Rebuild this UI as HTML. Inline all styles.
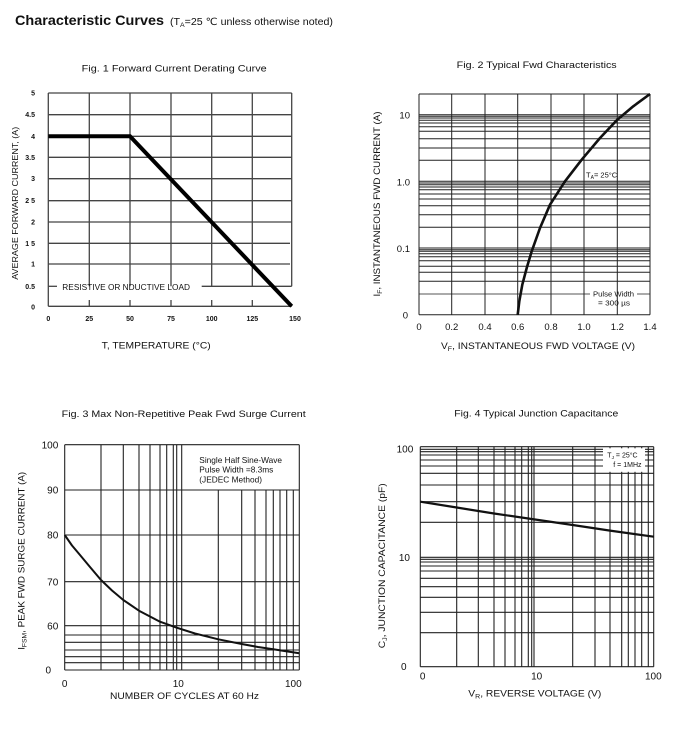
<!DOCTYPE html>
<html>
<head>
<meta charset="utf-8">
<style>
html,body{margin:0;padding:0;background:#fff;}
body{width:675px;height:745px;overflow:hidden;}
svg{display:block;}
text{font-family:"Liberation Sans",Arial,"DejaVu Sans",sans-serif;fill:#111;}
</style>
</head>
<body>
<svg width="675" height="745" viewBox="0 0 675 745" xmlns="http://www.w3.org/2000/svg">
<rect width="675" height="745" fill="#fff"/>

<!-- Main title -->
<text x="15" y="25" font-size="14" font-weight="bold" textLength="149" lengthAdjust="spacingAndGlyphs">Characteristic Curves</text>
<text x="170" y="25" font-size="10" textLength="163" lengthAdjust="spacingAndGlyphs">(T<tspan font-size="6.5" dy="2">A</tspan><tspan dy="-2">=25 ℃ unless otherwise noted)</tspan></text>

<!-- ================= FIG 1 ================= -->
<text x="81.7" y="71.5" font-size="9" textLength="185" lengthAdjust="spacingAndGlyphs">Fig. 1 Forward Current Derating Curve</text>
<g stroke="#444" stroke-width="1.3" fill="none">
  <!-- horizontals -->
  <line x1="48.3" y1="93" x2="291.7" y2="93"/>
  <line x1="48.3" y1="114.7" x2="291.7" y2="114.7"/>
  <line x1="48.3" y1="136.3" x2="291.7" y2="136.3"/>
  <line x1="48.3" y1="157.3" x2="291.7" y2="157.3"/>
  <line x1="48.3" y1="178.7" x2="291.7" y2="178.7"/>
  <line x1="48.3" y1="200.7" x2="291.7" y2="200.7"/>
  <line x1="48.3" y1="222" x2="291.7" y2="222"/>
  <line x1="48.3" y1="243.3" x2="290" y2="243.3"/>
  <line x1="48.3" y1="264" x2="290" y2="264"/>
  <line x1="48.3" y1="286.3" x2="57" y2="286.3"/>
  <line x1="201.7" y1="286.3" x2="291.7" y2="286.3"/>
  <line x1="48.3" y1="306.3" x2="291.7" y2="306.3"/>
  <!-- verticals -->
  <line x1="48.3" y1="93" x2="48.3" y2="306.3"/>
  <line x1="89.3" y1="93" x2="89.3" y2="286.3"/>
  <line x1="130" y1="93" x2="130" y2="286.3"/>
  <line x1="171" y1="93" x2="171" y2="286.3"/>
  <line x1="211.7" y1="93" x2="211.7" y2="286.3"/>
  <line x1="252.3" y1="93" x2="252.3" y2="286.3"/>
  <line x1="291.7" y1="93" x2="291.7" y2="286.3"/>
  <!-- bottom ticks -->
  <line x1="89.3" y1="300" x2="89.3" y2="306.3"/>
  <line x1="130" y1="300" x2="130" y2="306.3"/>
  <line x1="171" y1="300" x2="171" y2="306.3"/>
  <line x1="211.7" y1="300" x2="211.7" y2="306.3"/>
  <line x1="252.3" y1="300" x2="252.3" y2="306.3"/>
</g>
<polyline points="48.3,136.3 130,136.3 291.7,306.3" stroke="#000" stroke-width="4" fill="none" stroke-linejoin="miter"/>
<text x="62.3" y="290" font-size="8" textLength="127.7" lengthAdjust="spacingAndGlyphs">RESISTIVE OR  NDUCTIVE LOAD</text>
<g font-size="7" font-weight="bold" text-anchor="end">
  <text x="35" y="95.5">5</text>
  <text x="35" y="117.2">4.5</text>
  <text x="35" y="138.8">4</text>
  <text x="35" y="159.8">3.5</text>
  <text x="35" y="181.2">3</text>
  <text x="35" y="203.2">2 5</text>
  <text x="35" y="224.5">2</text>
  <text x="35" y="245.8">1 5</text>
  <text x="35" y="266.5">1</text>
  <text x="35" y="288.8">0.5</text>
  <text x="35" y="309.5">0</text>
</g>
<g font-size="7" font-weight="bold" text-anchor="middle">
  <text x="48.3" y="321">0</text>
  <text x="89.3" y="321">25</text>
  <text x="130" y="321">50</text>
  <text x="171" y="321">75</text>
  <text x="211.7" y="321">100</text>
  <text x="252.3" y="321">125</text>
  <text x="295" y="321">150</text>
</g>
<text x="101.7" y="348.3" font-size="9.5" textLength="109" lengthAdjust="spacingAndGlyphs">T, TEMPERATURE (°C)</text>
<text transform="translate(18,203.3) rotate(-90)" font-size="8.5" text-anchor="middle" textLength="153" lengthAdjust="spacingAndGlyphs">AVERAGE FORWARD CURRENT, (A)</text>

<!-- ================= FIG 2 ================= -->
<text x="456.7" y="68" font-size="9" textLength="160" lengthAdjust="spacingAndGlyphs">Fig. 2 Typical Fwd Characteristics</text>
<g stroke="#222" stroke-width="1" fill="none">
  <line x1="419" y1="94" x2="650" y2="94"/>
  <line x1="419" y1="114.7" x2="650" y2="114.7"/>
  <line x1="419" y1="116.3" x2="650" y2="116.3"/>
  <line x1="419" y1="118" x2="650" y2="118"/>
  <line x1="419" y1="120.3" x2="650" y2="120.3"/>
  <line x1="419" y1="123" x2="650" y2="123"/>
  <line x1="419" y1="126.7" x2="650" y2="126.7"/>
  <line x1="419" y1="131.3" x2="650" y2="131.3"/>
  <line x1="419" y1="138.7" x2="650" y2="138.7"/>
  <line x1="419" y1="148" x2="650" y2="148"/>
  <line x1="419" y1="160.3" x2="650" y2="160.3"/>
  <line x1="419" y1="181.3" x2="650" y2="181.3"/>
  <line x1="419" y1="183" x2="650" y2="183"/>
  <line x1="419" y1="184.7" x2="650" y2="184.7"/>
  <line x1="419" y1="187" x2="650" y2="187"/>
  <line x1="419" y1="189.7" x2="650" y2="189.7"/>
  <line x1="419" y1="194" x2="650" y2="194"/>
  <line x1="419" y1="199" x2="650" y2="199"/>
  <line x1="419" y1="205.7" x2="650" y2="205.7"/>
  <line x1="419" y1="214.7" x2="650" y2="214.7"/>
  <line x1="419" y1="227.3" x2="650" y2="227.3"/>
  <line x1="419" y1="248" x2="650" y2="248"/>
  <line x1="419" y1="249.7" x2="650" y2="249.7"/>
  <line x1="419" y1="251.3" x2="650" y2="251.3"/>
  <line x1="419" y1="253.7" x2="650" y2="253.7"/>
  <line x1="419" y1="256.7" x2="650" y2="256.7"/>
  <line x1="419" y1="260.7" x2="650" y2="260.7"/>
  <line x1="419" y1="266.3" x2="650" y2="266.3"/>
  <line x1="419" y1="272.3" x2="650" y2="272.3"/>
  <line x1="419" y1="281.3" x2="650" y2="281.3"/>
  <line x1="419" y1="294" x2="590" y2="294" stroke="#555"/>
  <line x1="637" y1="294" x2="650" y2="294" stroke="#555"/>
  <line x1="419" y1="314.7" x2="650" y2="314.7"/>
  <line x1="419" y1="94" x2="419" y2="314.7"/>
  <line x1="451.7" y1="94" x2="451.7" y2="314.7"/>
  <line x1="485" y1="94" x2="485" y2="314.7"/>
  <line x1="517.7" y1="94" x2="517.7" y2="314.7"/>
  <line x1="551" y1="94" x2="551" y2="314.7"/>
  <line x1="584" y1="94" x2="584" y2="314.7"/>
  <line x1="617.3" y1="94" x2="617.3" y2="314.7"/>
  <line x1="650" y1="94" x2="650" y2="314.7"/>
</g>
<polyline points="517.7,314.7 519.3,301.3 522.3,284.7 526.7,268 531.7,251.3 540,228 550,204.7 565,181.3 581.7,159.7 600,138 617.3,119.7 633.3,106.3 650,94" stroke="#111" stroke-width="2.6" fill="none" stroke-linejoin="round"/>
<text x="586" y="177.5" font-size="7.5">T<tspan font-size="5" dy="1.5">A</tspan><tspan dy="-1.5">=  25°C</tspan></text>
<text x="593" y="296.3" font-size="7.3" textLength="41" lengthAdjust="spacingAndGlyphs">Pulse Width</text>
<text x="598" y="305.5" font-size="7.3" textLength="32" lengthAdjust="spacingAndGlyphs">= 300 µs</text>
<g font-size="9.5" text-anchor="end">
  <text x="410" y="118.3">10</text>
  <text x="410" y="185.3">1.0</text>
  <text x="410" y="251.8">0.1</text>
  <text x="408" y="318.3">0</text>
</g>
<g font-size="9.5" text-anchor="middle">
  <text x="419" y="330">0</text>
  <text x="451.7" y="330">0.2</text>
  <text x="485" y="330">0.4</text>
  <text x="517.7" y="330">0.6</text>
  <text x="551" y="330">0.8</text>
  <text x="584" y="330">1.0</text>
  <text x="617.3" y="330">1.2</text>
  <text x="650" y="330">1.4</text>
</g>
<text x="441" y="349" font-size="9.5" textLength="194" lengthAdjust="spacingAndGlyphs">V<tspan font-size="6.5" dy="2">F</tspan><tspan dy="-2">, INSTANTANEOUS FWD VOLTAGE (V)</tspan></text>
<text transform="translate(380,204) rotate(-90)" font-size="9.5" text-anchor="middle" textLength="185" lengthAdjust="spacingAndGlyphs">I<tspan font-size="6.5" dy="2">F</tspan><tspan dy="-2">, INSTANTANEOUS FWD CURRENT (A)</tspan></text>

<!-- ================= FIG 3 ================= -->
<text x="61.7" y="417" font-size="9" textLength="244" lengthAdjust="spacingAndGlyphs">Fig. 3 Max Non-Repetitive Peak Fwd Surge Current</text>
<g stroke="#222" stroke-width="1.1" fill="none">
  <line x1="64.7" y1="444.7" x2="299.3" y2="444.7"/>
  <line x1="64.7" y1="490" x2="299.3" y2="490"/>
  <line x1="64.7" y1="535" x2="299.3" y2="535"/>
  <line x1="64.7" y1="581.7" x2="299.3" y2="581.7"/>
  <line x1="64.7" y1="625.7" x2="299.3" y2="625.7"/>
  <line x1="64.7" y1="635" x2="299.3" y2="635"/>
  <line x1="64.7" y1="642.3" x2="299.3" y2="642.3"/>
  <line x1="64.7" y1="650" x2="299.3" y2="650"/>
  <line x1="64.7" y1="656.7" x2="299.3" y2="656.7"/>
  <line x1="64.7" y1="662.7" x2="299.3" y2="662.7"/>
  <line x1="64.7" y1="670" x2="299.3" y2="670"/>
  <line x1="64.7" y1="444.7" x2="64.7" y2="670"/>
  <line x1="101" y1="444.7" x2="101" y2="670"/>
  <line x1="123.3" y1="444.7" x2="123.3" y2="670"/>
  <line x1="139" y1="444.7" x2="139" y2="670"/>
  <line x1="150" y1="444.7" x2="150" y2="670"/>
  <line x1="160" y1="444.7" x2="160" y2="670"/>
  <line x1="166.7" y1="444.7" x2="166.7" y2="670"/>
  <line x1="173.3" y1="444.7" x2="173.3" y2="670"/>
  <line x1="176.7" y1="444.7" x2="176.7" y2="670"/>
  <line x1="181.7" y1="444.7" x2="181.7" y2="670"/>
  <line x1="218.3" y1="490" x2="218.3" y2="670"/>
  <line x1="241.7" y1="490" x2="241.7" y2="670"/>
  <line x1="255" y1="490" x2="255" y2="670"/>
  <line x1="266" y1="490" x2="266" y2="670"/>
  <line x1="273.3" y1="490" x2="273.3" y2="670"/>
  <line x1="280" y1="490" x2="280" y2="670"/>
  <line x1="286.7" y1="490" x2="286.7" y2="670"/>
  <line x1="293.3" y1="490" x2="293.3" y2="670"/>
  <line x1="299.3" y1="444.7" x2="299.3" y2="670"/>
</g>
<polyline points="64.7,535 72,545.5 80,555 90,567 101,580 112,590.5 123.3,600 139,610.7 150,616.5 160,621.7 176.7,627.7 195,633.5 218.3,639.3 241.7,644 258,647 273.3,649.3 286,651.3 299.3,653.3" stroke="#111" stroke-width="2" fill="none" stroke-linejoin="round"/>
<g font-size="8.3">
  <text x="199.3" y="463">Single Half Sine-Wave</text>
  <text x="199.3" y="472.3">Pulse Width =8.3ms</text>
  <text x="199.3" y="482.3">(JEDEC Method)</text>
</g>
<g font-size="10" text-anchor="end">
  <text x="58.3" y="448.3">100</text>
  <text x="58.3" y="493.6">90</text>
  <text x="58.3" y="538.6">80</text>
  <text x="58.3" y="585.3">70</text>
  <text x="58.3" y="629.3">60</text>
  <text x="51" y="673.3">0</text>
</g>
<g font-size="10" text-anchor="middle">
  <text x="64.7" y="686.8">0</text>
  <text x="178.3" y="686.8">10</text>
  <text x="293.3" y="686.8">100</text>
</g>
<text x="110" y="699" font-size="9.5" textLength="149" lengthAdjust="spacingAndGlyphs">NUMBER OF CYCLES AT 60 Hz</text>
<text transform="translate(24.5,560.8) rotate(-90)" font-size="9.5" text-anchor="middle" textLength="178" lengthAdjust="spacingAndGlyphs">I<tspan font-size="6.5" dy="2">FSM</tspan><tspan dy="-2">,  PEAK FWD SURGE CURRENT (A)</tspan></text>

<!-- ================= FIG 4 ================= -->
<text x="454.3" y="416.5" font-size="9" textLength="164" lengthAdjust="spacingAndGlyphs">Fig. 4  Typical Junction Capacitance</text>
<g stroke="#222" stroke-width="1.1" fill="none">
  <line x1="420.3" y1="446.7" x2="653.7" y2="446.7"/>
  <line x1="420.3" y1="449.3" x2="653.7" y2="449.3"/>
  <line x1="420.3" y1="451.7" x2="653.7" y2="451.7"/>
  <line x1="420.3" y1="455" x2="653.7" y2="455"/>
  <line x1="420.3" y1="460" x2="653.7" y2="460"/>
  <line x1="420.3" y1="466" x2="653.7" y2="466"/>
  <line x1="420.3" y1="473.3" x2="653.7" y2="473.3"/>
  <line x1="420.3" y1="485" x2="653.7" y2="485"/>
  <line x1="420.3" y1="501.7" x2="653.7" y2="501.7"/>
  <line x1="420.3" y1="522.3" x2="653.7" y2="522.3"/>
  <line x1="420.3" y1="557.3" x2="653.7" y2="557.3"/>
  <line x1="420.3" y1="559.3" x2="653.7" y2="559.3"/>
  <line x1="420.3" y1="562" x2="653.7" y2="562"/>
  <line x1="420.3" y1="566" x2="653.7" y2="566"/>
  <line x1="420.3" y1="571" x2="653.7" y2="571"/>
  <line x1="420.3" y1="578.3" x2="653.7" y2="578.3"/>
  <line x1="420.3" y1="586.7" x2="653.7" y2="586.7"/>
  <line x1="420.3" y1="597.3" x2="653.7" y2="597.3"/>
  <line x1="420.3" y1="612.3" x2="653.7" y2="612.3"/>
  <line x1="420.3" y1="632.7" x2="653.7" y2="632.7"/>
  <line x1="420.3" y1="666.7" x2="653.7" y2="666.7"/>
  <line x1="420.3" y1="446.7" x2="420.3" y2="666.7"/>
  <line x1="456.7" y1="446.7" x2="456.7" y2="666.7"/>
  <line x1="478.3" y1="446.7" x2="478.3" y2="666.7"/>
  <line x1="494" y1="446.7" x2="494" y2="666.7"/>
  <line x1="505" y1="446.7" x2="505" y2="666.7"/>
  <line x1="515" y1="446.7" x2="515" y2="666.7"/>
  <line x1="521.7" y1="446.7" x2="521.7" y2="666.7"/>
  <line x1="528.3" y1="446.7" x2="528.3" y2="666.7"/>
  <line x1="531.7" y1="446.7" x2="531.7" y2="666.7"/>
  <line x1="534" y1="446.7" x2="534" y2="666.7"/>
  <line x1="572.7" y1="446.7" x2="572.7" y2="666.7"/>
  <line x1="595" y1="446.7" x2="595" y2="666.7"/>
  <line x1="610" y1="446.7" x2="610" y2="666.7"/>
  <line x1="621.7" y1="446.7" x2="621.7" y2="666.7"/>
  <line x1="628.3" y1="446.7" x2="628.3" y2="666.7"/>
  <line x1="635" y1="446.7" x2="635" y2="666.7"/>
  <line x1="641.7" y1="446.7" x2="641.7" y2="666.7"/>
  <line x1="648.3" y1="446.7" x2="648.3" y2="666.7"/>
  <line x1="653.7" y1="446.7" x2="653.7" y2="666.7"/>
</g>
<rect x="603" y="448.3" width="42" height="23.5" fill="#fff"/>
<polyline points="420.3,501.7 456.7,507.5 494,513.5 531.7,519 572.7,525 610,530.6 653.7,536.7" stroke="#111" stroke-width="2.2" fill="none" stroke-linejoin="round"/>
<text x="607.3" y="457.5" font-size="7">T<tspan font-size="4.8" dy="1.5">J</tspan><tspan dy="-1.5"> = 25°C</tspan></text>
<text x="613.3" y="466.8" font-size="7">f = 1MHz</text>
<g font-size="10" text-anchor="end">
  <text x="413.3" y="452.5">100</text>
  <text x="410" y="561.2">10</text>
  <text x="406.5" y="670.2">0</text>
</g>
<g font-size="10" text-anchor="middle">
  <text x="422.7" y="679.5">0</text>
  <text x="536.7" y="679.5">10</text>
  <text x="653.3" y="679.5">100</text>
</g>
<text x="468.3" y="696.6" font-size="9.5" textLength="133" lengthAdjust="spacingAndGlyphs">V<tspan font-size="6.5" dy="2">R</tspan><tspan dy="-2">, REVERSE VOLTAGE (V)</tspan></text>
<text transform="translate(385,565.8) rotate(-90)" font-size="9.5" text-anchor="middle" textLength="165" lengthAdjust="spacingAndGlyphs">C<tspan font-size="6.5" dy="2">J</tspan><tspan dy="-2">, JUNCTION CAPACITANCE (pF)</tspan></text>
</svg>
</body>
</html>
